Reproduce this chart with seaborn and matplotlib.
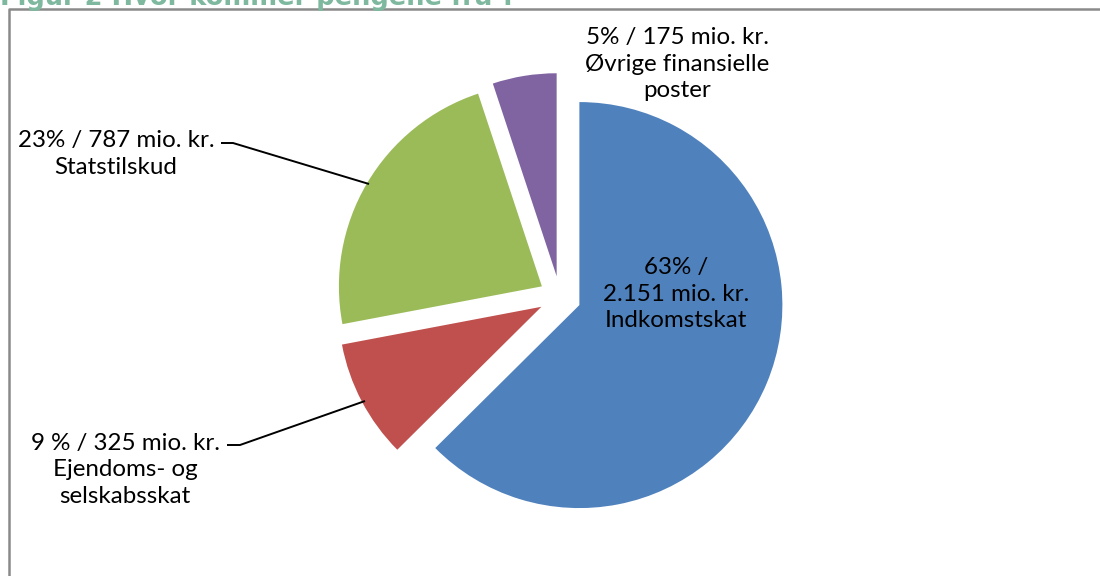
import matplotlib.pyplot as plt
import seaborn as sns

# where the money comes from (mio. kr.)
sources = ['Indkomstskat', 'Ejendoms- og selskabsskat', 'Statstilskud', 'Øvrige finansielle poster']
amounts = [2151, 325, 787, 175]
label_texts = [
    '63% /\n2.151 mio. kr.\nIndkomstskat',
    '9 % / 325 mio. kr.\nEjendoms- og\nselskabsskat',
    '23% / 787 mio. kr.\nStatstilskud',
    '5% / 175 mio. kr.\nØvrige finansielle\nposter',
]
colors = ['#4F81BD', '#C0504D', '#9BBB59', '#8064A2']

W, H = 1100, 576
CX, CY, R = 560, 297, 203   # pie centre / radius in pixels (from top-left)


def px(x, y):
    # pixel position (from top-left) -> data units of the pie axes
    return (x - CX) / R, (CY - y) / R


def setup():
    sns.set_theme(style='white')
    plt.rcParams['font.family'] = ['Lato', 'DejaVu Sans']


def draw():
    fig = plt.figure(figsize=(W / 100, H / 100), dpi=100)
    ax = fig.add_axes([0, 0, 1, 1])

    ax.pie(amounts, colors=colors, startangle=90, counterclock=False,
           explode=[21 / R] * len(amounts), radius=1,
           wedgeprops=dict(linewidth=0))

    ax.set_xlim(-CX / R, (W - CX) / R)
    ax.set_ylim(-(H - CY) / R, CY / R)
    ax.set_aspect('auto')
    ax.axis('off')

    fs = 17.4
    # label positions (block centres, pixels)
    pos = [(676, 294), (125, 470), (116, 154), (677, 64)]
    for txt, (x, y) in zip(label_texts, pos):
        ax.text(*px(x, y), txt, ha='center', va='center', fontsize=fs,
                color='black', linespacing=1.33)

    # leader lines
    for pts in ([(221, 143), (233, 143), (369, 184)],
                [(227, 445), (240, 445), (365, 401)]):
        xs, ys = zip(*[px(x, y) for x, y in pts])
        ax.plot(xs, ys, color='black', lw=1.4, solid_capstyle='butt')

    # chart frame (only left and top visible)
    fx = [px(9, H + 5), px(9, 9), px(W + 5, 9)]
    xs, ys = zip(*fx)
    ax.plot(xs, ys, color='#8a8a8a', lw=1.8, clip_on=False)

    # caption, cut off at the top edge as in the source
    fig.text(0.0, 1 - 5 / H, 'Figur 2 Hvor kommer pengene fra ?',
             ha='left', va='baseline', fontsize=18.5, fontweight='bold',
             color='#7DB89F', family=['DejaVu Sans'])

    fig.savefig('out.png', dpi=100)
    plt.close(fig)


if __name__ == '__main__':
    setup()
    draw()
